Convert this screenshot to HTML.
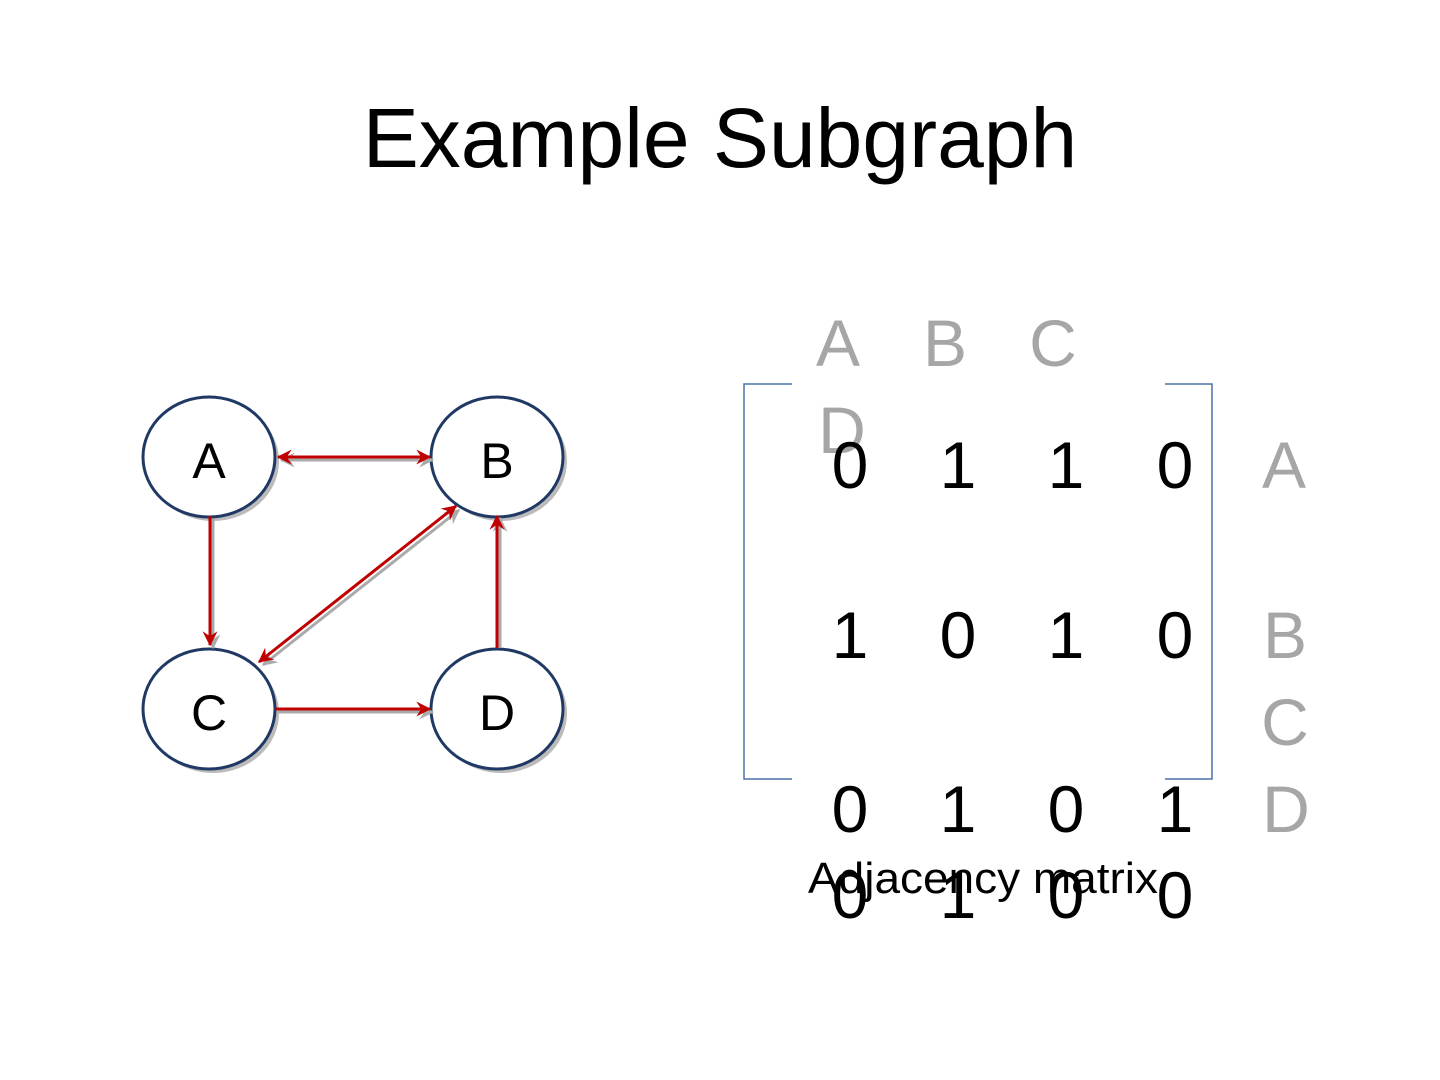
<!DOCTYPE html>
<html><head><meta charset="utf-8"><style>
html,body{margin:0;padding:0;background:#fff;width:1440px;height:1080px;overflow:hidden}
</style></head><body>
<svg width="1440" height="1080" viewBox="0 0 1440 1080" xmlns="http://www.w3.org/2000/svg" font-family="Liberation Sans, sans-serif">
<defs>
<marker id="ah" viewBox="0 0 12 12" refX="11" refY="6" markerWidth="5" markerHeight="5" orient="auto-start-reverse" markerUnits="strokeWidth">
<path d="M0,0 L12,6 L0,12 L4,6 Z" fill="#c00000"/></marker>
<marker id="ahs" viewBox="0 0 12 12" refX="11" refY="6" markerWidth="5" markerHeight="5" orient="auto-start-reverse" markerUnits="strokeWidth">
<path d="M0,0 L12,6 L0,12 L4,6 Z" fill="#aaa"/></marker>
</defs>
<text x="720" y="167" font-size="84" text-anchor="middle" fill="#000">Example Subgraph</text>
<!-- shadows -->
<g fill="#bbb">
<ellipse cx="213" cy="461" rx="66" ry="60"/><ellipse cx="501" cy="461" rx="66" ry="60"/>
<ellipse cx="213" cy="713" rx="66" ry="60"/><ellipse cx="501" cy="713" rx="66" ry="60"/>
</g>
<g fill="#fff" stroke="#1f3864" stroke-width="3">
<ellipse cx="209" cy="457" rx="66" ry="60"/><ellipse cx="497" cy="457" rx="66" ry="60"/>
<ellipse cx="209" cy="709" rx="66" ry="60"/><ellipse cx="497" cy="709" rx="66" ry="60"/>
</g>
<g font-size="50" text-anchor="middle" fill="#000">
<text x="209" y="478">A</text><text x="497" y="478">B</text>
<text x="209" y="730">C</text><text x="497" y="730">D</text>
</g>
<!-- edge shadows -->
<g stroke="#aaa" stroke-width="3" fill="none">
<line x1="281" y1="460" x2="433" y2="460" marker-start="url(#ahs)" marker-end="url(#ahs)"/>
<line x1="213" y1="519" x2="213" y2="648" marker-end="url(#ahs)"/>
<line x1="263" y1="665" x2="459" y2="510" marker-start="url(#ahs)" marker-end="url(#ahs)"/>
<line x1="500" y1="648" x2="500" y2="518" marker-end="url(#ahs)"/>
<line x1="278" y1="712" x2="433" y2="712" marker-end="url(#ahs)"/>
</g>
<g stroke="#c00000" stroke-width="3" fill="none">
<line x1="278" y1="457" x2="430" y2="457" marker-start="url(#ah)" marker-end="url(#ah)"/>
<line x1="210" y1="516" x2="210" y2="645" marker-end="url(#ah)"/>
<line x1="259" y1="662" x2="456" y2="506" marker-start="url(#ah)" marker-end="url(#ah)"/>
<line x1="497" y1="648" x2="497" y2="516" marker-end="url(#ah)"/>
<line x1="275" y1="709" x2="430" y2="709" marker-end="url(#ah)"/>
</g>
<!-- brackets -->
<g stroke="#4a72a8" stroke-width="1.5" fill="none">
<polyline points="792,384 744,384 744,779 792,779"/>
<polyline points="1165,384 1212,384 1212,779 1165,779"/>
</g>
<g font-size="66" fill="#a6a6a6" text-anchor="middle">
<text x="838" y="366">A</text><text x="945" y="366">B</text><text x="1053" y="366">C</text>
<text x="842" y="453">D</text>
<text x="1284" y="488">A</text><text x="1285" y="658">B</text><text x="1285" y="745">C</text><text x="1286" y="832">D</text>
</g>
<g font-size="66" fill="#000" text-anchor="middle">
<text x="850" y="488">0</text><text x="958" y="488">1</text><text x="1066" y="488">1</text><text x="1175" y="488">0</text>
<text x="850" y="658">1</text><text x="958" y="658">0</text><text x="1066" y="658">1</text><text x="1175" y="658">0</text>
<text x="850" y="832">0</text><text x="958" y="832">1</text><text x="1066" y="832">0</text><text x="1175" y="832">1</text>
<text x="850" y="918">0</text><text x="958" y="918">1</text><text x="1066" y="918">0</text><text x="1175" y="918">0</text>
</g>
<text x="808" y="893" font-size="44" fill="#000" textLength="350" lengthAdjust="spacingAndGlyphs">Adjacency matrix</text>
</svg>
</body></html>
